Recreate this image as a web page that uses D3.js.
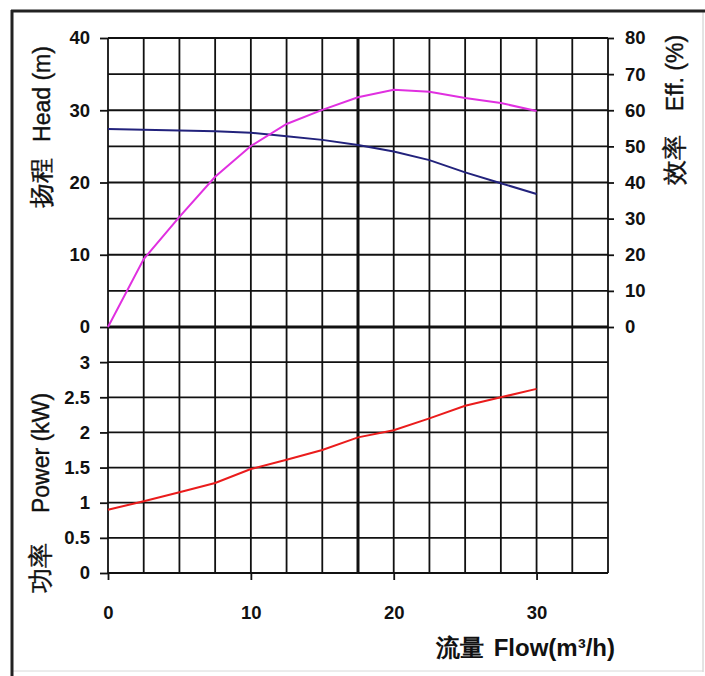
<!DOCTYPE html>
<html>
<head>
<meta charset="utf-8">
<script src="https://cdn.jsdelivr.net/npm/d3@7"></script>
<style>
  body { margin: 0; background: #fff; }
  text { font-family: "Liberation Sans", Arial, sans-serif; fill: #111; }
</style>
</head>
<body>
<div id="chart"></div>
<script>
var svgWidth = 705;
var svgHeight = 676;

// data
var flow = [0, 2.5, 5, 7.5, 10, 12.5, 15, 17.5, 20, 22.5, 25, 27.5, 30];
var head = [27.4, 27.3, 27.2, 27.1, 26.9, 26.4, 25.9, 25.2, 24.3, 23.1, 21.4, 19.9, 18.4];
var eff = [0, 18.8, 30.5, 41.6, 50.1, 56.2, 60.1, 63.6, 65.7, 65.1, 63.4, 62, 59.8];
var power = [0.9, 1.02, 1.15, 1.28, 1.48, 1.61, 1.75, 1.93, 2.03, 2.2, 2.38, 2.5, 2.62];

var flowTicks = [0, 10, 20, 30];
var headTicks = [0, 10, 20, 30, 40];
var effTicks = [0, 10, 20, 30, 40, 50, 60, 70, 80];
var powerTicks = [0, 0.5, 1, 1.5, 2, 2.5, 3];
var powerTickLabels = ["0", "0.5", "1", "1.5", "2", "2.5", "3"];

var plot = { left: 108, right: 608, top: 38, mid: 327, bottom: 573 };

var svg = d3.select("#chart")
    .append("svg")
    .attr("width", svgWidth)
    .attr("height", svgHeight);

// scales
var x = d3.scaleLinear().domain([0, 35]).range([plot.left, plot.right]);
var yHead = d3.scaleLinear().domain([0, 40]).range([plot.mid, plot.top]);
var yEff = d3.scaleLinear().domain([0, 80]).range([plot.mid, plot.top]);
var yPow = d3.scaleLinear().domain([0, 3.5]).range([plot.bottom, plot.mid]);

// outer frame
svg.append("line").attr("x1", 703).attr("x2", 703).attr("y1", 11).attr("y2", 672)
    .attr("stroke", "#c8c8c8").attr("stroke-width", 1);
svg.append("line").attr("x1", 12).attr("x2", 703).attr("y1", 671).attr("y2", 671)
    .attr("stroke", "#d8d8d8").attr("stroke-width", 1);
svg.append("line").attr("x1", 12).attr("x2", 12).attr("y1", 10).attr("y2", 676)
    .attr("stroke", "#222").attr("stroke-width", 3);
svg.append("line").attr("x1", 11).attr("x2", 705).attr("y1", 11).attr("y2", 11)
    .attr("stroke", "#222").attr("stroke-width", 3);

var grid = svg.append("g").attr("stroke", "#111").attr("stroke-width", 1.8);

// vertical grid every 2.5
d3.range(0, 35.01, 2.5).forEach(function(v) {
    grid.append("line")
        .attr("x1", x(v)).attr("x2", x(v))
        .attr("y1", plot.top).attr("y2", plot.bottom)
        .attr("stroke-width", v === 17.5 ? 3 : 1.8);
});
// horizontal grid, head part every 5
d3.range(0, 40.01, 5).forEach(function(v) {
    grid.append("line")
        .attr("x1", x(0)).attr("x2", x(35))
        .attr("y1", yHead(v)).attr("y2", yHead(v))
        .attr("stroke-width", v === 0 ? 3 : 1.8);
});
// horizontal grid, power part every 0.5
d3.range(0, 3.01, 0.5).forEach(function(v) {
    grid.append("line")
        .attr("x1", x(0)).attr("x2", x(35))
        .attr("y1", yPow(v)).attr("y2", yPow(v));
});

// axes
var fmt = function(d) { return d; };
var headAxis = svg.append("g")
    .attr("transform", "translate(" + plot.left + ",0)")
    .call(d3.axisLeft(yHead).tickValues(headTicks).tickSize(8).tickPadding(10).tickFormat(fmt));
var powAxis = svg.append("g")
    .attr("transform", "translate(" + plot.left + ",0)")
    .call(d3.axisLeft(yPow).tickValues(powerTicks).tickSize(8).tickPadding(10)
        .tickFormat(function(d, i) { return powerTickLabels[i]; }));
var effAxis = svg.append("g")
    .attr("transform", "translate(" + plot.right + ",0)")
    .call(d3.axisRight(yEff).tickValues(effTicks).tickSize(6).tickPadding(11).tickFormat(fmt));
var flowAxis = svg.append("g")
    .attr("transform", "translate(0," + plot.bottom + ")")
    .call(d3.axisBottom(x).tickValues(flowTicks).tickSize(7).tickPadding(26).tickFormat(fmt));

[headAxis, powAxis, effAxis, flowAxis].forEach(function(a) {
    a.select(".domain").remove();
    a.selectAll(".tick line").attr("stroke", "#111").attr("stroke-width", 1.8);
    a.selectAll(".tick text")
        .style("font-family", "'Liberation Sans', Arial, sans-serif")
        .style("font-size", "18.5px")
        .style("font-weight", "bold")
        .attr("fill", "#111");
});

// curves
var line = d3.line().x(function(d) { return x(d[0]); }).y(function(d) { return d[1]; });

svg.append("path")
    .datum(flow.map(function(f, i) { return [f, yHead(head[i])]; }))
    .attr("d", line)
    .attr("fill", "none").attr("stroke", "#22227c").attr("stroke-width", 2);
svg.append("path")
    .datum(flow.map(function(f, i) { return [f, yEff(eff[i])]; }))
    .attr("d", line)
    .attr("fill", "none").attr("stroke", "#e030e0").attr("stroke-width", 2);
svg.append("path")
    .datum(flow.map(function(f, i) { return [f, yPow(power[i])]; }))
    .attr("d", line)
    .attr("fill", "none").attr("stroke", "#ea1c1c").attr("stroke-width", 2);

// axis titles (CJK part, gap, latin part)
function yTitle(cx, cy, cjk, latin, gap) {
    var t = svg.append("text")
        .attr("transform", "translate(" + cx + "," + cy + ") rotate(-90)")
        .attr("text-anchor", "middle")
        .style("font-size", "23px")
        .attr("stroke", "#111").attr("stroke-width", 0.4);
    t.append("tspan").style("font-size", "25px").text(cjk);
    t.append("tspan").attr("dx", gap).text(latin);
}
yTitle(50, 127, "扬程", "Head (m)", 16);
yTitle(49, 493, "功率", "Power (kW)", 30);
yTitle(683, 110, "效率", "Eff. (%)", 24);

var ft = svg.append("text")
    .attr("x", 615).attr("y", 656)
    .attr("text-anchor", "end")
    .style("font-size", "24px")
    .style("font-weight", "bold");
ft.append("tspan").text("流量");
ft.append("tspan").attr("dx", 10).text("Flow(m³/h)");
</script>
</body>
</html>
